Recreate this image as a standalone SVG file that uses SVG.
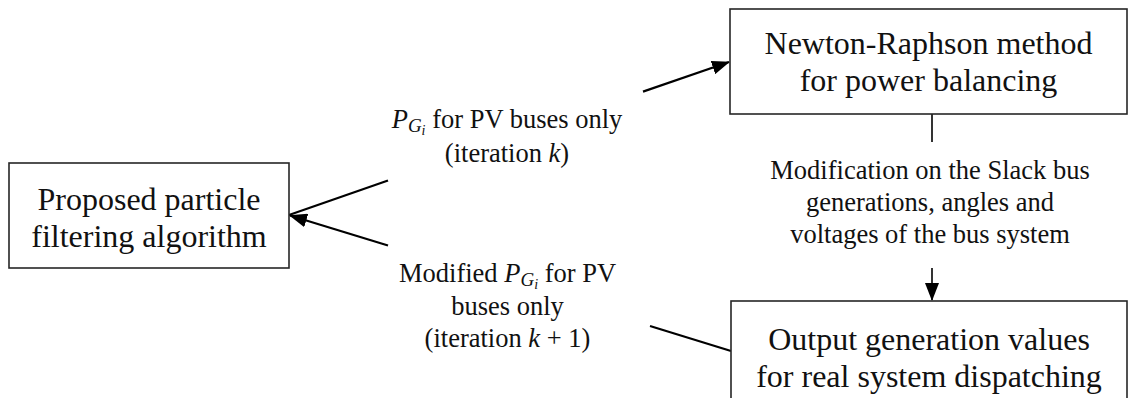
<svg xmlns="http://www.w3.org/2000/svg" width="1128" height="398" viewBox="0 0 1128 398">
  <style>
    .box { fill: #ffffff; stroke: #262626; stroke-width: 1.6; }
    .node-text { font-family: "Liberation Serif", "Times New Roman", serif; font-size: 32px; fill: #111; text-anchor: middle; }
    .label { font-family: "Liberation Serif", "Times New Roman", serif; font-size: 26.5px; fill: #111; text-anchor: middle; }
    .math { font-style: italic; }
    .wire { fill: none; stroke: #000; stroke-width: 2.2; }
    .thin { fill: none; stroke: #000; stroke-width: 1.6; }
  </style>
  <defs>
    <marker id="arrow" viewBox="0 0 18 14" refX="17" refY="7" markerWidth="18" markerHeight="14" markerUnits="userSpaceOnUse" orient="auto">
      <path d="M0,0 L18,7 L0,14 Z" fill="#000"/>
    </marker>
  </defs>

  <rect width="1128" height="398" fill="#ffffff"/>

  <!-- connectors -->
  <g id="connectors">
    <!-- particle filter -> Newton-Raphson (split around its label) -->
    <line class="wire" x1="289" y1="215" x2="388" y2="180.5"/>
    <line class="wire" x1="643" y1="91.6" x2="729" y2="62" marker-end="url(#arrow)"/>
    <!-- output -> particle filter (split around its label) -->
    <line class="wire" x1="731" y1="351" x2="650" y2="326"/>
    <line class="wire" x1="388" y1="245.5" x2="290" y2="215.5" marker-end="url(#arrow)"/>
    <!-- Newton-Raphson -> output (split around its label) -->
    <line class="thin" x1="932" y1="114" x2="932" y2="142"/>
    <line class="thin" x1="932" y1="268" x2="932" y2="300" marker-end="url(#arrow)"/>
  </g>

  <!-- connector labels -->
  <g id="label-forward">
    <text class="label" x="507" y="128"><tspan class="math">P</tspan><tspan class="math" font-size="19" dy="4">G</tspan><tspan class="math" font-size="14" dy="3">i</tspan><tspan dy="-7"> for PV buses only</tspan></text>
    <text class="label" x="507" y="162">(iteration <tspan class="math">k</tspan>)</text>
  </g>
  <g id="label-feedback">
    <text class="label" x="507.5" y="282">Modified <tspan class="math">P</tspan><tspan class="math" font-size="19" dy="4">G</tspan><tspan class="math" font-size="14" dy="3">i</tspan><tspan dy="-7"> for PV</tspan></text>
    <text class="label" x="507.5" y="315">buses only</text>
    <text class="label" x="507.5" y="347">(iteration <tspan class="math">k</tspan> + 1)</text>
  </g>
  <g id="label-slack">
    <text class="label" x="930" y="179">Modification on the Slack bus</text>
    <text class="label" x="930" y="211">generations, angles and</text>
    <text class="label" x="930" y="243">voltages of the bus system</text>
  </g>

  <!-- nodes -->
  <g id="particle-filter">
    <rect class="box" x="9" y="163" width="280" height="105"/>
    <text class="node-text" x="149" y="210">Proposed particle</text>
    <text class="node-text" x="149" y="247">filtering algorithm</text>
  </g>
  <g id="newton-raphson">
    <rect class="box" x="730" y="9" width="397" height="105"/>
    <text class="node-text" x="928.5" y="54">Newton-Raphson method</text>
    <text class="node-text" x="928.5" y="91">for power balancing</text>
  </g>
  <g id="output-generation">
    <rect class="box" x="731" y="301" width="396" height="110"/>
    <text class="node-text" x="929" y="350">Output generation values</text>
    <text class="node-text" x="929" y="387">for real system dispatching</text>
  </g>
</svg>
